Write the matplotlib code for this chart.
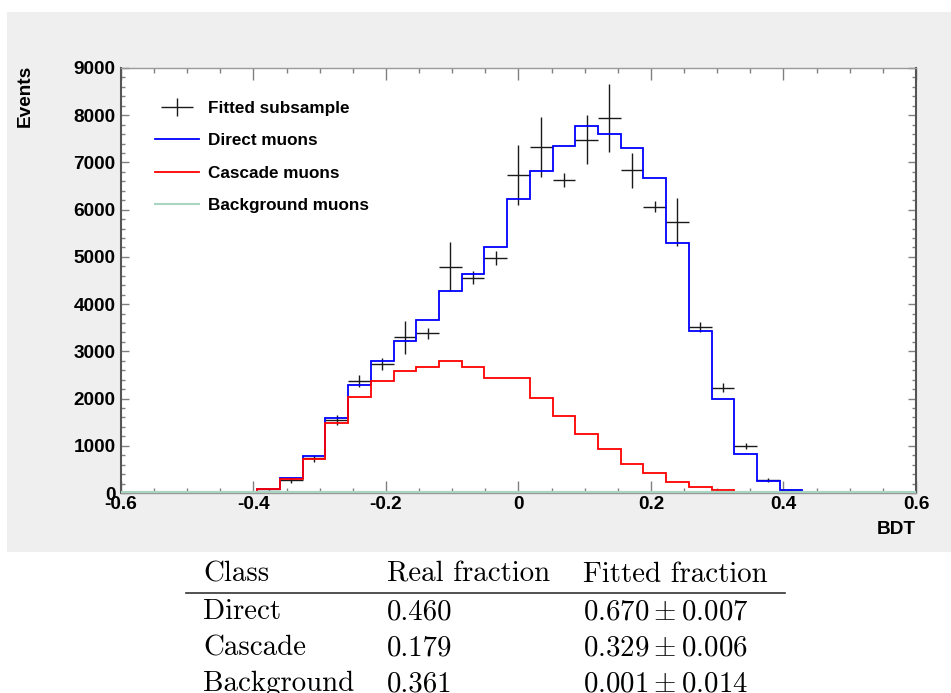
import numpy as np
import matplotlib
matplotlib.use("Agg")
import matplotlib.pyplot as plt
from matplotlib.lines import Line2D
from matplotlib.patches import Rectangle
from matplotlib.legend_handler import HandlerErrorbar

plt.rcParams['font.family'] = ['Liberation Sans', 'DejaVu Sans']
plt.rcParams['mathtext.fontset'] = 'cm'

# 35 bins from -0.6 to 0.6
edges = np.linspace(-0.6, 0.6, 36)

direct = [0, 0, 0, 0, 0, 0, 80, 310, 776, 1584, 2286, 2803, 3228, 3668, 4278, 4646,
          5206, 6219, 6822, 7340, 7778, 7595, 7310, 6680, 5290, 3440, 1995, 825, 259,
          53, 0, 0, 0, 0, 0]
cascade = [0, 0, 0, 0, 0, 0, 80, 300, 727, 1485, 2037, 2371, 2590, 2675, 2803, 2662,
           2441, 2441, 2003, 1627, 1258, 932, 613, 414, 230, 124, 53, 25, 10,
           0, 0, 0, 0, 0, 0]
background = [0] * 35
fitted = [0, 0, 0, 0, 0, 17, 80, 265, 734, 1542, 2364, 2725, 3300, 3385, 4795, 4561,
          4980, 6737, 7332, 6630, 7480, 7935, 6830, 6064, 5737, 3519, 2229, 989, 280,
          65, 15, 0, 0, 0, 0]
fitted_err = [0, 0, 0, 0, 0, 8, 25, 50, 67, 100, 128, 128, 347, 117, 525, 142,
              145, 634, 638, 152, 521, 719, 379, 124, 514, 106, 92, 64, 40,
              20, 10, 0, 0, 0, 0]

table_header = ["Class", "Real fraction", "Fitted fraction"]
table_class = ["Direct", "Cascade", "Background"]
table_real = ["0.460", "0.179", "0.361"]
table_fit = [r"$0.670 \pm 0.007$", r"$0.329 \pm 0.006$", r"$0.001 \pm 0.014$"]

W, H = 951, 693
fig = plt.figure(figsize=(W / 100, H / 100), dpi=100, facecolor='white')
fig.patches.append(Rectangle((7 / W, 1 - 552 / H), 1 - 7 / W, (552 - 12) / H,
                             transform=fig.transFigure, facecolor='#efefef',
                             edgecolor='none', zorder=-5))

ax = fig.add_axes([121 / W, 1 - 493 / H, 795 / W, (493 - 68) / H], zorder=2)
ax.set_facecolor('white')

centers = 0.5 * (edges[:-1] + edges[1:])
halfw = 0.5 * (edges[1] - edges[0])
fitted = np.array(fitted, float)
fitted_err = np.array(fitted_err, float)
m = fitted > 0

eb = ax.errorbar(centers[m], fitted[m], xerr=halfw, yerr=fitted_err[m], fmt='none',
                 ecolor='#1a1a1a', elinewidth=1.0, capsize=0, zorder=3)
ax.stairs(direct, edges, color='#0000ff', lw=1.3, zorder=4)
ax.stairs(cascade, edges, color='#ff0000', lw=1.3, zorder=4)
ax.stairs(background, edges, color='#a8d5c2', lw=3.0, zorder=5)

ax.set_xlim(-0.6, 0.6)
ax.set_ylim(0, 9000)
ax.set_xticks(np.arange(-0.6, 0.61, 0.2))
ax.set_xticks(np.arange(-0.6, 0.61, 0.05), minor=True)
ax.set_yticks(np.arange(0, 9001, 1000))
ax.set_yticks(np.arange(0, 9001, 200), minor=True)
ax.set_xticklabels(['-0.6', '-0.4', '-0.2', '0', '0.2', '0.4', '0.6'])
ax.tick_params(axis='both', which='both', direction='in', top=True, right=True,
               color='#808080', labelsize=13.7)
ax.tick_params(axis='x', which='major', length=8.6, width=1.0, pad=2)
ax.tick_params(axis='x', which='minor', length=3.8, width=1.0)
ax.tick_params(axis='y', which='major', length=5.8, width=1.0, pad=4)
ax.tick_params(axis='y', which='minor', length=2.9, width=1.0)
for lab in ax.get_xticklabels() + ax.get_yticklabels():
    lab.set_fontweight('bold')
for s in ['top', 'bottom']:
    ax.spines[s].set_color('#999999')
    ax.spines[s].set_linewidth(1.0)
for s in ['left', 'right']:
    ax.spines[s].set_color('#555555')
    ax.spines[s].set_linewidth(1.5)

fig.text(25 / W, 1 - 65 / H, 'Events', rotation=90, ha='center', va='top',
         fontsize=13.7, fontweight='bold')
fig.text(916 / W, 1 - 529 / H, 'BDT', ha='right', va='center',
         fontsize=13.7, fontweight='bold')

handles = [eb,
           Line2D([], [], color='#0000ff', lw=1.3),
           Line2D([], [], color='#ff0000', lw=1.3),
           Line2D([], [], color='#a8d5c2', lw=1.5)]
labels = ['Fitted subsample', 'Direct muons', 'Cascade muons', 'Background muons']
leg = ax.legend(handles, labels, loc='upper left', bbox_to_anchor=(155 / W, 1 - 101 / H),
                bbox_transform=fig.transFigure, frameon=False, borderpad=0,
                borderaxespad=0, handlelength=2.55, handletextpad=0.55,
                labelspacing=1.02, prop={'weight': 'bold', 'size': 12.3},
                handler_map={type(eb): HandlerErrorbar(xerr_size=0.95, yerr_size=0.55)})

# table below the chart
col_x = [203, 387, 583]
base_y = [582, 619, 655, 691]
for x, t in zip(col_x, table_header):
    fig.text(x / W, 1 - base_y[0] / H, t, ha='left', va='baseline',
             family='cmr10', fontsize=20.8)
for i in range(3):
    y = 1 - base_y[i + 1] / H
    fig.text(col_x[0] / W, y, table_class[i], ha='left', va='baseline',
             family='cmr10', fontsize=20.8)
    fig.text(col_x[1] / W, y, table_real[i], ha='left', va='baseline',
             family='cmr10', fontsize=20.8)
    fig.text(col_x[2] / W, y, table_fit[i], ha='left', va='baseline', fontsize=20.8)
fig.add_artist(Line2D([186 / W, 785 / W], [1 - 593 / H, 1 - 593 / H],
                      transform=fig.transFigure, color='#333333', lw=1.2))

fig.savefig('out.png', dpi=100)
